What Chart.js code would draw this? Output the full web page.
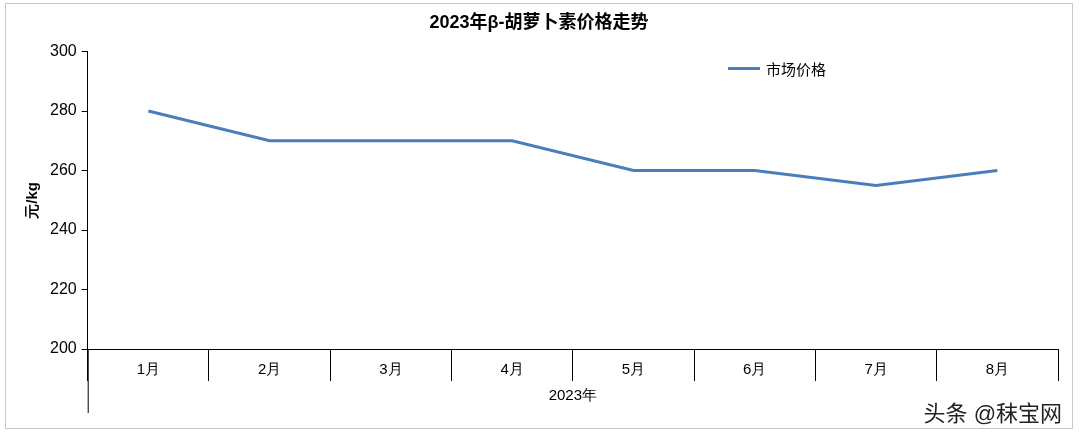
<!DOCTYPE html>
<html><head><meta charset="utf-8">
<script src="https://cdn.jsdelivr.net/npm/chart.js@4/dist/chart.umd.min.js"></script>
<style>
body{margin:0;background:#fff;font-family:"Liberation Sans","Noto Sans CJK SC",sans-serif;}
#wrap{position:relative;width:1080px;height:433px;}
#frame{position:absolute;left:5px;top:3px;width:1068px;height:426px;border:1px solid #c8c8c8;box-sizing:border-box;}
#legend{position:absolute;left:728px;top:58px;font-size:15px;color:#000;display:flex;align-items:center;}
#legend span.l{display:inline-block;width:32px;height:3px;background:#4a7ebb;margin-right:6px;}
#mark{position:absolute;right:18px;bottom:6px;font-size:22px;color:#222;}
</style></head><body>
<div id="wrap">
<div id="frame"></div>
<canvas id="c" width="1080" height="433"></canvas>
<div id="legend"><span class="l"></span>市场价格</div>
<div id="mark">头条 @秣宝网</div>
</div>
<script>
const categories=["1月","2月","3月","4月","5月","6月","7月","8月"];
const prices=[280,270,270,270,260,260,255,260];
const yTicks=[200,220,240,260,280,300];
const ext={id:'ext',afterDraw(ch){const c=ch.ctx,a=ch.chartArea;c.save();c.strokeStyle='#000';c.lineWidth=1;c.beginPath();c.moveTo(a.left+0.5,a.bottom);c.lineTo(a.left+0.5,413);c.stroke();c.restore();}};
new Chart(document.getElementById('c'),{type:'line',
data:{labels:categories,datasets:[{label:'市场价格',data:prices,borderColor:'#4a7ebb',borderWidth:3,pointRadius:0,tension:0,fill:false}]},
options:{responsive:false,animation:false,
layout:{padding:{left:20,right:22,top:0,bottom:20}},
plugins:{legend:{display:false},tooltip:{enabled:false},
title:{display:true,text:'2023年β-胡萝卜素价格走势',font:{size:18,weight:'bold',family:'Liberation Sans, Noto Sans CJK SC'},color:'#000',padding:{top:12,bottom:18}}},
scales:{
x:{offset:true,afterFit:s=>{s.height=64;},grid:{offset:true,drawOnChartArea:false,color:'#000',tickLength:32},border:{color:'#000'},
ticks:{color:'#000',font:{size:15},padding:-20},
title:{display:true,text:'2023年',color:'#000',font:{size:15},padding:{top:4,bottom:8}}},
y:{min:200,max:300,afterBuildTicks:s=>{s.ticks=yTicks.map(v=>({value:v}));},
grid:{display:true,drawOnChartArea:false,color:'#000',tickLength:6},border:{color:'#000'},
ticks:{color:'#000',font:{size:16},padding:5},
title:{display:true,text:'元/kg',color:'#000',font:{size:15,weight:'bold'},padding:{bottom:3}}}}},
plugins:[ext]});
</script></body></html>
